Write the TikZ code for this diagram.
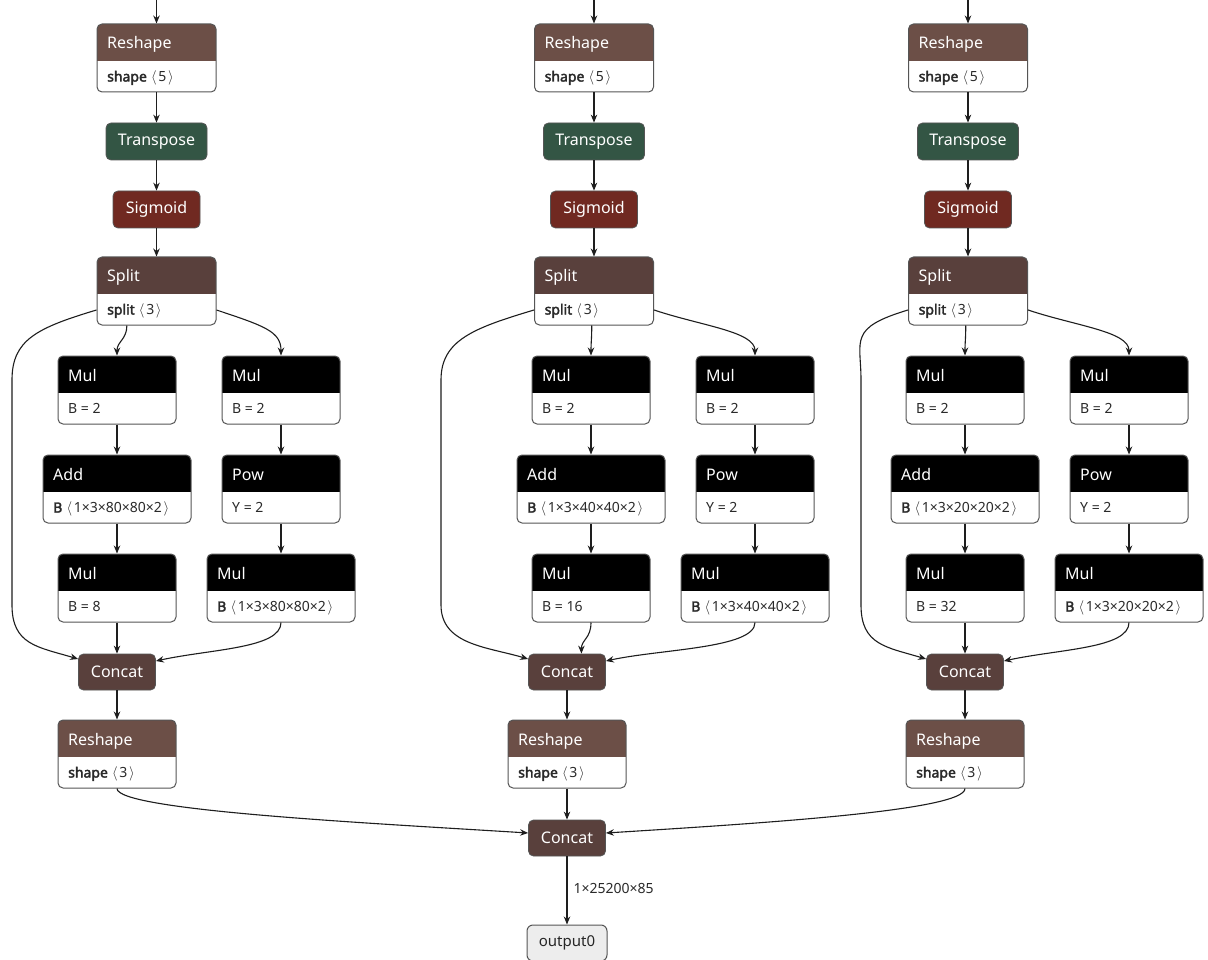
\documentclass[tikz,border=0pt]{standalone}
\usepackage{fontspec}
\setmainfont{Noto Sans}[BoldFont={Noto Sans}, BoldFeatures={FakeBold=2.5}]
\usetikzlibrary{arrows.meta,calc}
\definecolor{shapec}{HTML}{6C4F47}
\definecolor{tensorc}{HTML}{59403C}
\definecolor{transc}{HTML}{335544}
\definecolor{actc}{HTML}{702921}
\definecolor{edgec}{HTML}{1E1E1E}
\definecolor{borderc}{HTML}{555555}
\definecolor{attrc}{HTML}{2A2A2A}
\newcommand\ang[1]{\hspace{0.3em}\ensuremath{\langle}\hspace{0.12em}#1\hspace{0.12em}\ensuremath{\rangle}}
\tikzset{
  box/.style={draw=borderc, line width=1pt, rounded corners=5pt, inner sep=0pt},
  ttl/.style={text=white, font=\fontsize{16}{19}\selectfont, inner sep=0pt},
  attr/.style={text=attrc, font=\fontsize{14}{17}\selectfont, inner sep=0pt},
  simple/.style={draw=borderc, line width=0.8pt, rounded corners=5pt, text=white,
    font=\fontsize{16}{19}\selectfont, minimum height=37pt, inner sep=0pt},
  edge/.style={draw=edgec, line width=1.1pt, -{Stealth[length=8pt,width=6.5pt]}},
}
% name, center x, top y, width, colour, title, attribute
\newcommand\opnode[7]{%
  \pgfmathsetmacro\opxa{#2-#4/2}\pgfmathsetmacro\opxb{#2+#4/2}%
  \pgfmathsetmacro\opya{#3}\pgfmathsetmacro\opyb{#3+68}\pgfmathsetmacro\opys{#3+37}%
  \begin{scope}
    \clip[rounded corners=5pt] (\opxa,\opya) rectangle (\opxb,\opyb);
    \fill[white] (\opxa,\opya) rectangle (\opxb,\opyb);
    \fill[#5] (\opxa,\opya) rectangle (\opxb,\opys);
  \end{scope}
  \node[box, minimum width=#4pt, minimum height=68pt] (#1) at (#2,{#3+34}) {};
  \node[ttl, anchor=base west] (#1-t) at ({\opxa+10},{#3+25}) {#6};
  \node[attr, anchor=base west] (#1-a) at ({\opxa+10},{#3+57.5}) {#7};
}
% prefix, top centre, left centre, right centre, concat centre, bypass x, size, mul B
\newcommand\netcol[8]{%
  \opnode{#1rs}{#2}{24}{119}{shapec}{Reshape}{\textbf{shape}\ang{5}}
  \node[simple, fill=transc, minimum width=101pt] (#1tr) at (#2,141.5) {Transpose};
  \node[simple, fill=actc, minimum width=87pt] (#1sg) at (#2,209.5) {Sigmoid};
  \opnode{#1sp}{#2}{257}{119}{tensorc}{Split}{\textbf{split}\ang{3}}
  \opnode{#1ma}{#3}{356}{118}{black}{Mul}{B = 2}
  \opnode{#1mb}{#4}{356}{118}{black}{Mul}{B = 2}
  \opnode{#1ad}{#3}{455}{148}{black}{Add}{\textbf{B}\ang{1×3×#7×#7×2}}
  \opnode{#1pw}{#4}{455}{118}{black}{Pow}{Y = 2}
  \opnode{#1mc}{#3}{554}{118}{black}{Mul}{B = #8}
  \opnode{#1md}{#4}{554}{148}{black}{Mul}{\textbf{B}\ang{1×3×#7×#7×2}}
  \node[simple, fill=tensorc, minimum width=77pt, minimum height=36pt] (#1cc) at (#5,672) {Concat};
  \opnode{#1rt}{#5}{720}{118}{shapec}{Reshape}{\textbf{shape}\ang{3}}
  \coordinate (#1in) at (#2,0);
  \draw[edge] (#1in) -- (#1rs.north);
  \draw[edge] (#1rs.south) -- (#1tr.north);
  \draw[edge] (#1tr.south) -- (#1sg.north);
  \draw[edge] (#1sg.south) -- (#1sp.north);
  \draw[edge] ($(#1sp.south)+({(#3-#2)*0.75},0)$) .. controls +(0,14) and +(0,-14) .. (#1ma.north);
  \draw[edge] ($(#1sp.east)+(0,19)$) .. controls +(48,16) and +(0,-24) .. (#1mb.north);
  \draw[edge] ($(#1sp.west)+(0,19)$) .. controls +(-60,18) and +(0,-40) .. (#6,380)
     -- (#6,605) .. controls +(0,40) and +(-40,-12) .. ($(#1cc.west)+(0,-13)$);
  \draw[edge] (#1ma.south) -- (#1ad.north);
  \draw[edge] (#1ad.south) -- (#1mc.north);
  \draw[edge] (#1mb.south) -- (#1pw.north);
  \draw[edge] (#1pw.south) -- (#1md.north);
  \draw[edge] (#1mc.south) .. controls +(0,16) and +(0,-14) .. ($(#1cc.north)+({(#3-#5)*0.6},0)$);
  \draw[edge] (#1md.south) .. controls +(0,26) and +(55,-12) .. ($(#1cc.east)+(0,-11)$);
  \draw[edge] (#1cc.south) -- (#1rt.north);
}
\begin{document}
\begin{tikzpicture}[x=1pt,y=-1pt]
  \useasboundingbox (0,0) rectangle (1208,960);
  \fill[white] (0,0) rectangle (1208,960);
  \netcol{A}{156.5}{117}{281}{117}{12}{80}{8}
  \netcol{B}{594}{591}{755}{567}{441}{40}{16}
  \netcol{C}{968}{965}{1129}{965}{861}{20}{32}
  \node[simple, fill=tensorc, minimum width=77pt, minimum height=36pt] (fc) at (567,838) {Concat};
  \node[draw=borderc, line width=1pt, rounded corners=6pt, fill=black!7, text=black!85,
        font=\fontsize{15}{18}\selectfont, minimum width=80pt, minimum height=36pt, inner sep=0pt]
        (out) at (567,943) {output0};
  \draw[edge] (Art.south) .. controls +(0,22) and +(-160,-10) .. ($(fc.west)+(0,-5)$);
  \draw[edge] (Brt.south) -- (fc.north);
  \draw[edge] (Crt.south) .. controls +(0,22) and +(160,-10) .. ($(fc.east)+(0,-5)$);
  \draw[edge] (fc.south) -- node[pos=0.47, anchor=west, xshift=6pt, text=attrc,
        font=\fontsize{14}{17}\selectfont, inner sep=0pt] (shp) {1×25200×85} (out.north);
\end{tikzpicture}
\end{document}
